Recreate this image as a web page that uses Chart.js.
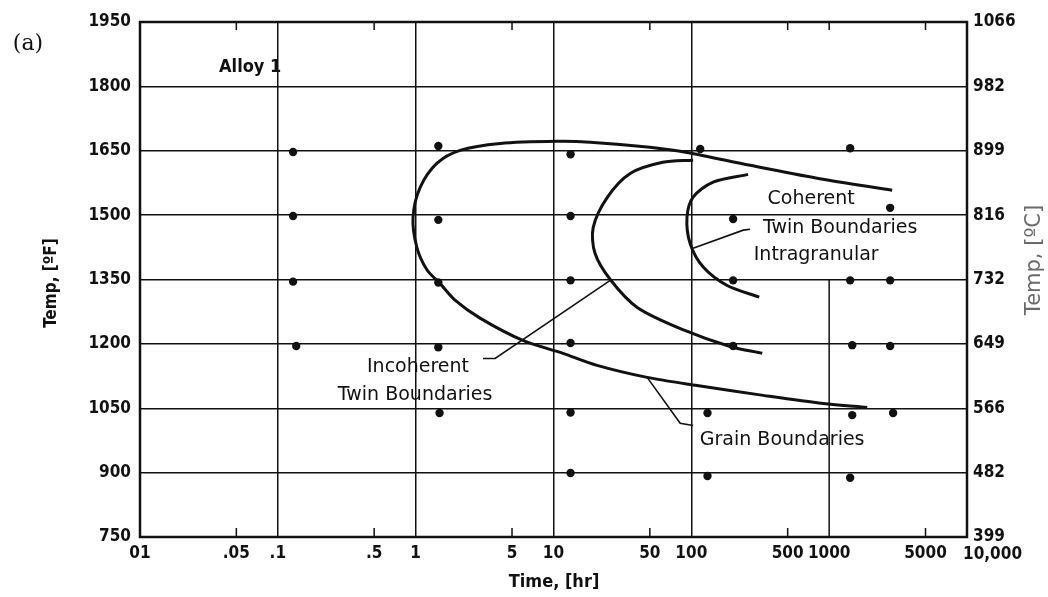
<!DOCTYPE html>
<html lang="en">
<head>
    <meta charset="UTF-8">
    <title>Alloy 1 - TTP diagram</title>
    <script src="https://cdn.jsdelivr.net/npm/chart.js@4.4.1/dist/chart.umd.min.js"></script>
    <style>
        html, body { margin: 0; padding: 0; background: #fff; }
        #wrap { width: 1048px; height: 597px; position: relative; }
    </style>
</head>
<body>
    <div id="wrap"><canvas id="chart"></canvas></div>

    <script>
        // axis ticks
        const tempTicksF = [750, 900, 1050, 1200, 1350, 1500, 1650, 1800, 1950];
        const tempLabelsC = ['399', '482', '566', '649', '732', '816', '899', '982', '1066'];
        const timeTicks = [0.01, 0.05, 0.1, 0.5, 1, 5, 10, 50, 100, 500, 1000, 5000, 10000];
        const timeLabels = ['01', '.05', '.1', '.5', '1', '5', '10', '50', '100', '500', '1000', '5000', '10,000'];

        // test points (hr, degF)
        const dotTime = [0.129, 1.46, 13.3, 116, 1420,
                         0.129, 1.46, 13.3, 201, 2770,
                         0.129, 1.46, 13.3, 201, 1420, 2770,
                         0.136, 1.46, 13.3, 201, 1470, 2770,
                         1.49, 13.3, 131, 1470, 2910,
                         13.3, 131, 1420];
        const dotTemp = [1647, 1661, 1642, 1654, 1656,
                         1498, 1489, 1498, 1491, 1517,
                         1345, 1343, 1348, 1348, 1348, 1348,
                         1195, 1192, 1202, 1195, 1197, 1195,
                         1039, 1040, 1039, 1034, 1039,
                         899, 892, 888];

        // grain boundaries curve
        const gbTime = [2864, 818, 267, 93, 50, 18.5, 10.6, 4.1, 2.1, 1.43, 1.08, 0.957, 1.02, 1.21, 1.5, 1.93, 2.93, 6.0, 11.7, 20.7, 47.8, 110, 332, 904, 1888];
        const gbTemp = [1558, 1586, 1616, 1646, 1658, 1670, 1672, 1667, 1651, 1621, 1565, 1495, 1425, 1372, 1341, 1302, 1260, 1208, 1178, 1150, 1122, 1103, 1080, 1061, 1052];

        // incoherent twin boundaries curve
        const itTime = [103, 62, 36, 24.5, 19.4, 20, 25.8, 40.5, 88.7, 191, 327];
        const itTemp = [1628, 1623, 1597, 1541, 1471, 1411, 1350, 1285, 1232, 1194, 1178];

        // coherent twin boundaries curve
        const ctTime = [258, 144, 103, 93, 98, 122, 182, 311];
        const ctTemp = [1595, 1577, 1542, 1495, 1434, 1379, 1336, 1309];

        // leader lines for the labels
        const leadCoherentTime = [267, 238, 103];
        const leadCoherentTemp = [1467, 1465, 1423];
        const leadIncoherentTime = [3.08, 3.77, 25.8];
        const leadIncoherentTemp = [1166, 1166, 1348];
        const leadGrainTime = [47.8, 83, 103];
        const leadGrainTemp = [1122, 1015, 1010];

        const toXY = (xs, ys) => xs.map((x, i) => ({ x: x, y: ys[i] }));

        const FONT = "'DejaVu Sans Condensed', 'Liberation Sans Narrow', 'DejaVu Sans', sans-serif";
        const NOTE_FONT = "'DejaVu Sans', sans-serif";

        // text notes placed in data coordinates
        const notes = [
            { text: 'Alloy 1', t: 0.063, T: 1844, size: 18, bold: true, family: FONT },
            { text: 'Coherent', t: 740, T: 1537, size: 19 },
            { text: 'Twin Boundaries', t: 1202, T: 1469, size: 19 },
            { text: 'Intragranular', t: 805, T: 1408, size: 19 },
            { text: 'Incoherent', t: 1.04, T: 1146, size: 19 },
            { text: 'Twin Boundaries', t: 0.99, T: 1081, size: 19 },
            { text: 'Grain Boundaries', t: 456, T: 975, size: 19 }
        ];

        const decorPlugin = {
            id: 'decor',
            afterDraw(chart) {
                const ctx = chart.ctx;
                const a = chart.chartArea;
                const xs = chart.scales.x, ys = chart.scales.y;
                ctx.save();

                // partial grid line at 1000 hr
                ctx.strokeStyle = '#111';
                ctx.lineWidth = 1.5;
                const x1000 = xs.getPixelForValue(1000);
                ctx.beginPath();
                ctx.moveTo(x1000, ys.getPixelForValue(1350));
                ctx.lineTo(x1000, a.bottom);
                ctx.moveTo(x1000, a.top);
                ctx.lineTo(x1000, a.top + 8);
                ctx.stroke();

                // short inner ticks at 5-multiples
                [0.05, 0.5, 5, 50, 500, 5000].forEach(v => {
                    const px = xs.getPixelForValue(v);
                    ctx.beginPath();
                    ctx.moveTo(px, a.bottom);
                    ctx.lineTo(px, a.bottom - 9);
                    ctx.moveTo(px, a.top);
                    ctx.lineTo(px, a.top + 8);
                    ctx.stroke();
                });

                // frame
                ctx.lineWidth = 2.5;
                ctx.strokeRect(a.left, a.top, a.right - a.left, a.bottom - a.top);

                // notes
                ctx.fillStyle = '#111';
                ctx.textAlign = 'center';
                ctx.textBaseline = 'middle';
                notes.forEach(n => {
                    ctx.font = (n.bold ? 'bold ' : '') + n.size + 'px ' + (n.family || NOTE_FONT);
                    ctx.fillText(n.text, xs.getPixelForValue(n.t), ys.getPixelForValue(n.T));
                });

                // last time label sits to the right of its tick
                ctx.textAlign = 'left';
                ctx.font = 'bold 17px ' + FONT;
                ctx.fillText(timeLabels[timeLabels.length - 1], xs.getPixelForValue(10000) - 4, a.bottom + 18);
                ctx.textAlign = 'center';

                // panel letter
                ctx.font = "22px 'DejaVu Serif', 'Liberation Serif', serif";
                ctx.fillText('(a)', 28, 44);

                // axis titles
                ctx.font = 'bold 18px ' + FONT;
                ctx.fillText('Time, [hr]', 554, 582);

                ctx.save();
                ctx.translate(52, 283);
                ctx.rotate(-Math.PI / 2);
                ctx.font = 'bold 17px ' + FONT;
                ctx.fillText('Temp, [\u00BAF]', 0, 0);
                ctx.restore();

                ctx.save();
                ctx.translate(1035, 260);
                ctx.rotate(-Math.PI / 2);
                ctx.fillStyle = '#6a6a6a';
                ctx.font = "21px 'DejaVu Sans', sans-serif";
                ctx.fillText('Temp, [\u00BAC]', 0, 0);
                ctx.restore();

                ctx.restore();
            }
        };

        const curveStyle = {
            showLine: true,
            borderColor: '#111',
            borderWidth: 3,
            pointRadius: 0,
            tension: 0.3,
            fill: false
        };
        const leadStyle = {
            showLine: true,
            borderColor: '#111',
            borderWidth: 1.6,
            pointRadius: 0,
            tension: 0,
            fill: false
        };

        new Chart(document.getElementById('chart'), {
            type: 'scatter',
            data: {
                datasets: [
                    { label: 'Points', data: toXY(dotTime, dotTemp), pointRadius: 4.2, pointBackgroundColor: '#111', pointBorderWidth: 0 },
                    Object.assign({ label: 'Grain Boundaries', data: toXY(gbTime, gbTemp) }, curveStyle),
                    Object.assign({ label: 'Incoherent Twin Boundaries', data: toXY(itTime, itTemp) }, curveStyle),
                    Object.assign({ label: 'Coherent Twin Boundaries', data: toXY(ctTime, ctTemp) }, curveStyle),
                    Object.assign({ label: 'lead1', data: toXY(leadCoherentTime, leadCoherentTemp) }, leadStyle),
                    Object.assign({ label: 'lead2', data: toXY(leadIncoherentTime, leadIncoherentTemp) }, leadStyle),
                    Object.assign({ label: 'lead3', data: toXY(leadGrainTime, leadGrainTemp) }, leadStyle)
                ]
            },
            options: {
                responsive: true,
                maintainAspectRatio: false,
                animation: false,
                layout: { padding: { top: 22, left: 0, right: 0, bottom: 0 } },
                plugins: {
                    legend: { display: false },
                    tooltip: { enabled: false }
                },
                scales: {
                    x: {
                        type: 'logarithmic',
                        min: 0.01,
                        max: 10000,
                        afterBuildTicks: s => { s.ticks = timeTicks.map(v => ({ value: v })); },
                        afterFit: s => { s.height = 60; },
                        ticks: {
                            autoSkip: false,
                            maxRotation: 0,
                            padding: 6,
                            color: '#111',
                            font: { family: FONT, size: 17, weight: 'bold' },
                            callback: (v, i) => (i === timeLabels.length - 1 ? '' : timeLabels[i])
                        },
                        grid: {
                            drawTicks: false,
                            lineWidth: 1.5,
                            color: c => {
                                const v = c.tick ? c.tick.value : 0;
                                const dec = [0.1, 1, 10, 100].some(d => Math.abs(v - d) < d * 1e-6);
                                return dec ? '#111' : 'rgba(0,0,0,0)';
                            }
                        },
                        border: { display: false }
                    },
                    y: {
                        min: 750,
                        max: 1950,
                        position: 'left',
                        afterBuildTicks: s => { s.ticks = tempTicksF.map(v => ({ value: v })); },
                        afterFit: s => { s.width = 140; },
                        ticks: {
                            padding: 9,
                            color: '#111',
                            font: { family: FONT, size: 17, weight: 'bold' },
                            callback: v => String(v)
                        },
                        grid: { drawTicks: false, lineWidth: 1.5, color: '#111' },
                        border: { display: false }
                    },
                    y2: {
                        min: 750,
                        max: 1950,
                        position: 'right',
                        afterBuildTicks: s => { s.ticks = tempTicksF.map(v => ({ value: v })); },
                        afterFit: s => { s.width = 81; },
                        ticks: {
                            padding: 6,
                            color: '#111',
                            font: { family: FONT, size: 17, weight: 'bold' },
                            callback: (v, i) => tempLabelsC[i]
                        },
                        grid: { drawOnChartArea: false, drawTicks: false },
                        border: { display: false }
                    }
                }
            },
            plugins: [decorPlugin]
        });
    </script>
</body>
</html>
